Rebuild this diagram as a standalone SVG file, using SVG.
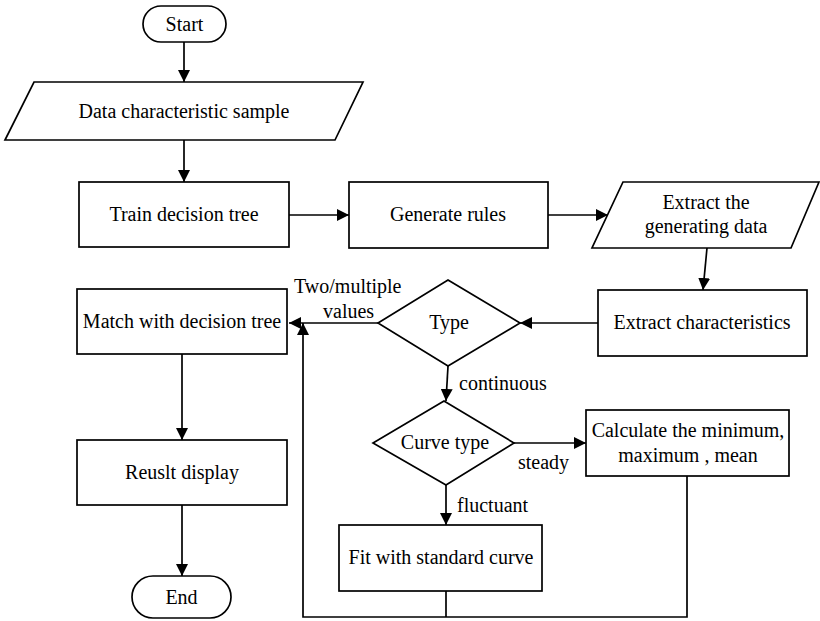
<svg xmlns="http://www.w3.org/2000/svg" width="820" height="621" viewBox="0 0 820 621">
  <style>
    .shape { fill: #ffffff; stroke: #000000; stroke-width: 1.7; }
    .line { fill: none; stroke: #000000; stroke-width: 1.7; }
    text { font-family: "Liberation Serif", "Times New Roman", "DejaVu Serif", serif; font-size: 20px; fill: #000000; text-anchor: middle; }
    .lbl { text-anchor: start; }
  </style>
  <defs>
    <marker id="arrow" viewBox="0 0 12 12" refX="12" refY="6" markerWidth="12" markerHeight="12" markerUnits="userSpaceOnUse" orient="auto">
      <path d="M0,0 L12,6 L0,12 Z" fill="#000000"/>
    </marker>
  </defs>
  <rect width="820" height="621" fill="#ffffff"/>

  <!-- connectors -->
  <g id="connectors" font-family="Liberation Serif, serif">
    <line class="line" x1="184" y1="42" x2="184" y2="82" marker-end="url(#arrow)"/>
    <line class="line" x1="184" y1="140" x2="184" y2="182" marker-end="url(#arrow)"/>
    <line class="line" x1="289" y1="215" x2="349" y2="215" marker-end="url(#arrow)"/>
    <line class="line" x1="548" y1="215" x2="608" y2="215" marker-end="url(#arrow)"/>
    <line class="line" x1="707" y1="248" x2="703" y2="290" marker-end="url(#arrow)"/>
    <line class="line" x1="598" y1="323" x2="520" y2="323" marker-end="url(#arrow)"/>
    <line class="line" x1="378" y1="323" x2="289" y2="323" marker-end="url(#arrow)"/>
    <line class="line" x1="448" y1="366" x2="446" y2="401" marker-end="url(#arrow)"/>
    <line class="line" x1="514" y1="443" x2="586" y2="443" marker-end="url(#arrow)"/>
    <line class="line" x1="446" y1="485" x2="446" y2="525" marker-end="url(#arrow)"/>
    <line class="line" x1="182" y1="354" x2="182" y2="440" marker-end="url(#arrow)"/>
    <line class="line" x1="182" y1="505" x2="182" y2="576" marker-end="url(#arrow)"/>
    <!-- feedback loop back to the match step -->
    <polyline class="line" points="446,591 446,617"/>
    <polyline class="line" points="687,476 687,617 303,617 303,323" marker-end="url(#arrow)"/>
    <text class="lbl" x="294" y="293">Two/multiple</text>
    <text class="lbl" x="323" y="318">values</text>
    <text class="lbl" x="459" y="390">continuous</text>
    <text class="lbl" x="518" y="469">steady</text>
    <text class="lbl" x="457" y="512">fluctuant</text>
  </g>

  <g id="start">
    <rect class="shape" x="143" y="6" width="83" height="36" rx="18" ry="18"/>
    <text x="184.5" y="31">Start</text>
  </g>
  <g id="data-sample">
    <polygon class="shape" points="34,82 363,82 335,140 5,140"/>
    <text x="184" y="118">Data characteristic sample</text>
  </g>
  <g id="train-tree">
    <rect class="shape" x="79" y="182" width="210" height="65"/>
    <text x="184" y="221">Train decision tree</text>
  </g>
  <g id="generate-rules">
    <rect class="shape" x="349" y="182" width="199" height="66"/>
    <text x="448" y="221">Generate rules</text>
  </g>
  <g id="extract-data">
    <polygon class="shape" points="623,182 819,182 791,248 592,248"/>
    <text x="706" y="209">Extract the</text>
    <text x="706" y="233">generating data</text>
  </g>
  <g id="extract-characteristics">
    <rect class="shape" x="598" y="290" width="209" height="66"/>
    <text x="702" y="329">Extract characteristics</text>
  </g>
  <g id="type">
    <polygon class="shape" points="448,280 520,323 448,366 378,323"/>
    <text x="449" y="329">Type</text>
  </g>
  <g id="match">
    <rect class="shape" x="77" y="289" width="210" height="65"/>
    <text x="182" y="328">Match with decision tree</text>
  </g>
  <g id="result">
    <rect class="shape" x="77" y="440" width="210" height="65"/>
    <text x="182" y="479">Reuslt display</text>
  </g>
  <g id="end">
    <rect class="shape" x="132" y="576" width="99" height="42" rx="21" ry="21"/>
    <text x="181.5" y="604">End</text>
  </g>
  <g id="curve-type">
    <polygon class="shape" points="444,401 514,443 446,485 373,443"/>
    <text x="445" y="449">Curve type</text>
  </g>
  <g id="calculate">
    <rect class="shape" x="586" y="410" width="203" height="66"/>
    <text x="688" y="437">Calculate the minimum,</text>
    <text x="688" y="462">maximum , mean</text>
  </g>
  <g id="fit">
    <rect class="shape" x="339" y="525" width="203" height="66"/>
    <text x="441" y="564">Fit with standard curve</text>
  </g>
</svg>
